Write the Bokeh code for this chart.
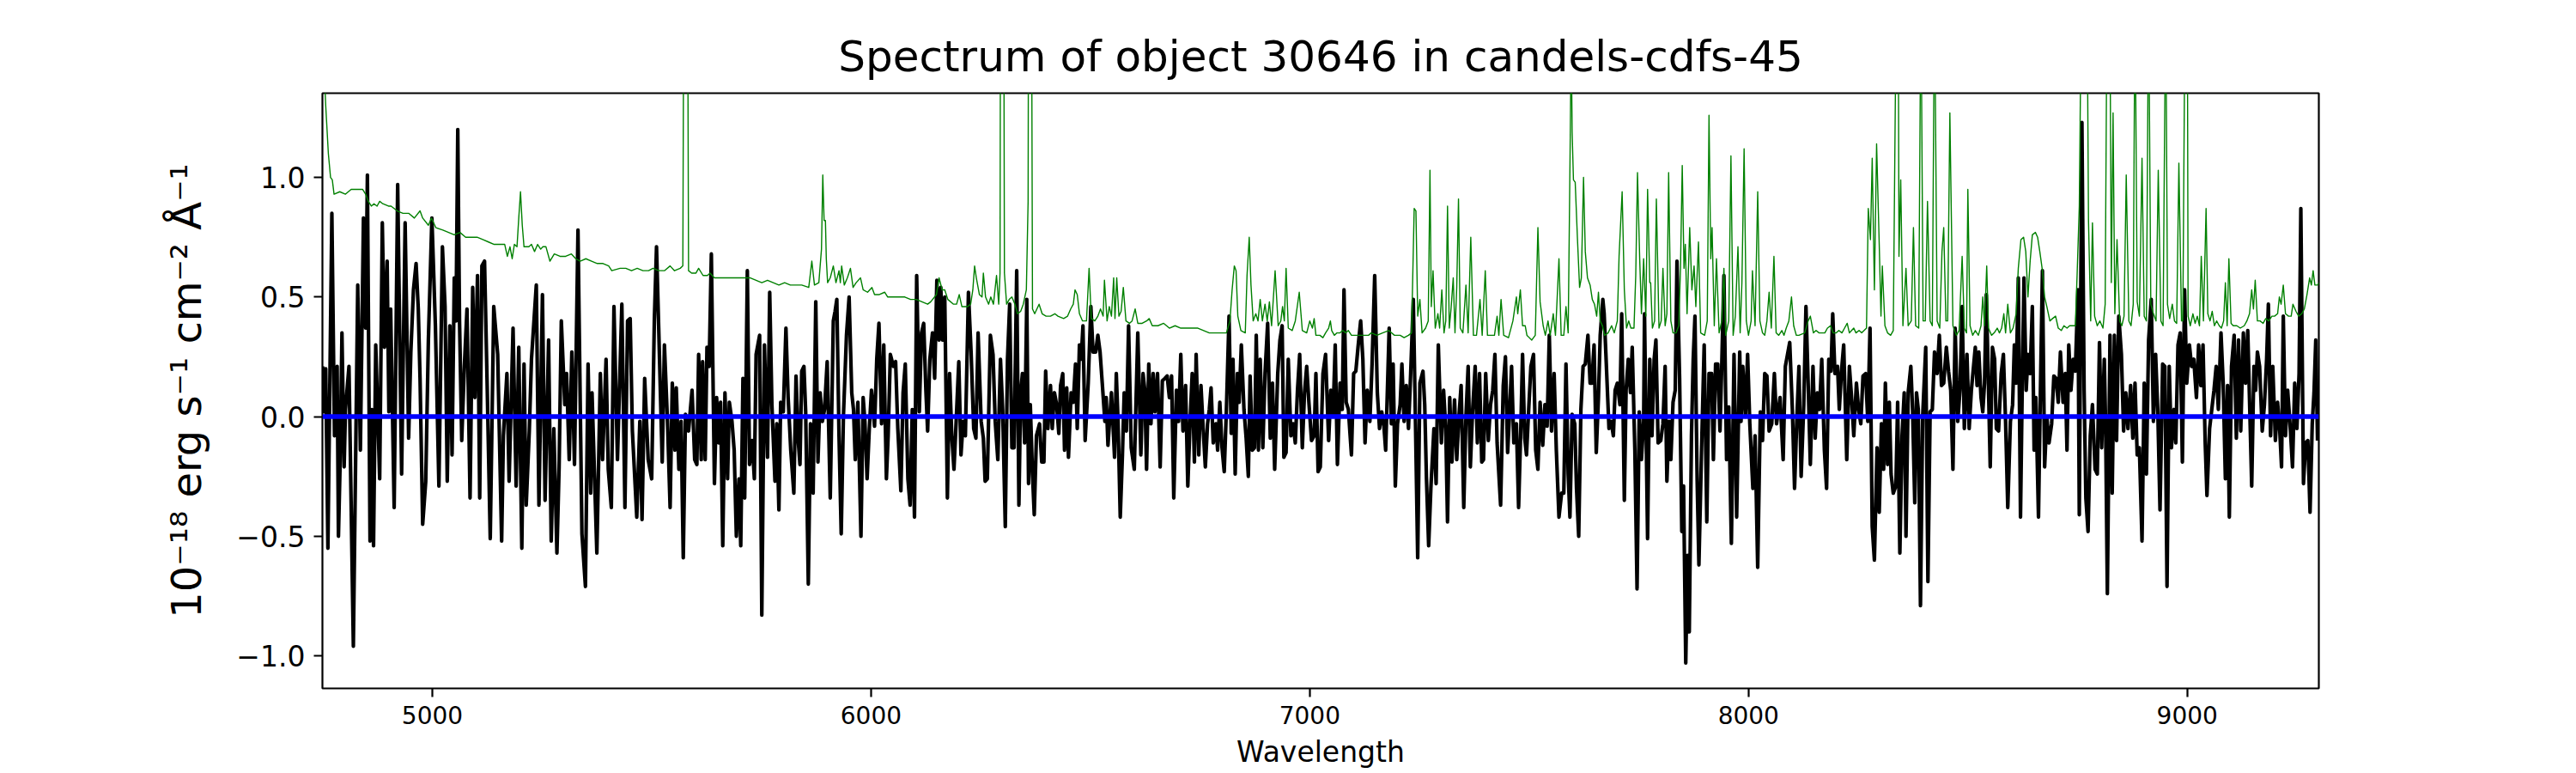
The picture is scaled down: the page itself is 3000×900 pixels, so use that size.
from bokeh.plotting import figure
from bokeh.models import Range1d, FixedTicker, CustomJSTickFormatter
from bokeh.embed import file_html
from bokeh.resources import INLINE

TITLE = "Spectrum of object 30646 in candels-cdfs-45"
X_LABEL = "Wavelength"
Y_LABEL = "10\u207b\u00b9\u2078 erg s\u207b\u00b9 cm\u207b\u00b2 \u00c5\u207b\u00b9"
X_TICKS = [5000, 6000, 7000, 8000, 9000]
Y_TICKS = [-1.0, -0.5, 0.0, 0.5, 1.0]
X_LIMITS = (4749.5, 9300.0)
Y_LIMITS = (-1.136, 1.352)

# ---- observed flux (black), read in six pieces ----
flux_wave_1 = [4750,4753,4757,4762,4771,4777,4783,4786,4790,4794,4799,4802,4810,4820,4830,4836,4843,4848,4852,4858,
               4862,4866,4871,4880,4886,4891,4897,4901,4905,4913,4921,4930,4938,4946,4951,4957,4963,4968,4972,4978,
               4985,4991,4999,5007,5015,5023,5029,5034,5040,5045,5050,5054,5058,5062,5067,5073,5079,5086,5092,5097,
               5103,5108,5113,5119,5125,5132,5140,5149,5158,5162,5170,5175,5184,5191,5197,5204,5209,5214,5221,5226,
               5237,5243,5251,5257,5265,5271,5277,5284,5289,5294,5302,5306,5312,5318,5324,5332,5341,5349,5355,5361,
               5364,5375,5383,5388,5396,5401,5408,5414,5422,5432,5439,5445,5451,5456,5466,5473,5478,5484,5492,5500]
flux_val_1 = [0.21,0.02,0.20,-0.55,0.85,-0.08,0.21,-0.50,-0.18,0.35,-0.21,0.03,0.21,-0.96,0.55,-0.14,0.83,0.37,1.01,-0.52,
              0.03,-0.54,0.30,-0.26,0.81,0.29,0.65,0.02,0.45,-0.38,0.97,-0.24,0.81,-0.09,0.27,0.53,0.64,0.45,0.16,-0.45,
              -0.27,0.32,0.83,0.38,-0.29,0.71,0.46,-0.27,0.38,-0.16,0.58,0.40,1.20,0.40,-0.10,0.21,0.45,-0.34,0.54,0.08,
              0.59,-0.34,0.63,0.65,0.13,-0.51,0.46,0.26,-0.52,-0.08,0.18,-0.27,0.37,-0.29,0.29,-0.55,0.22,-0.37,-0.06,0.24,
              0.55,-0.37,0.51,-0.35,0.32,-0.52,-0.05,-0.57,-0.21,0.40,0.05,0.18,-0.18,0.27,-0.20,0.78,-0.49,-0.71,0.22,-0.32,
              0.10,-0.57,0.18,-0.18,0.24,-0.22,-0.38,0.46,-0.18,0.47,-0.38,0.40,0.41,-0.06,-0.42,-0.02,-0.43,0.16,-0.18,-0.26]

flux_wave_2 = [5506,5511,5516,5524,5529,5536,5542,5547,5553,5556,5562,5567,5572,5577,5584,5592,5598,5603,5607,5613,
               5616,5622,5626,5631,5636,5643,5648,5653,5657,5662,5667,5673,5677,5683,5688,5693,5699,5703,5708,5712,
               5718,5723,5729,5734,5738,5746,5751,5757,5764,5769,5774,5781,5785,5790,5794,5800,5806,5811,5817,5824,
               5829,5834,5838,5842,5847,5851,5857,5862,5868,5874,5879,5884,5889,5894,5900,5907,5914,5918,5922,5927,
               5932,5937,5944,5950,5956,5960,5964,5970,5977,5982,5986,5991,5996,6001,6008,6013,6018,6024,6029,6035,
               6039,6044,6051,6056,6061,6068,6073,6078,6084,6089,6094,6099,6104,6110,6115,6120,6125,6129,6134,6140,
               6145,6150,6155,6159,6163,6168,6174,6179,6184,6189,6194,6200,6205,6210,6215,6222,6228,6234,6239,6244,
               6251]
flux_val_2 = [0.40,0.71,0.37,-0.19,0.30,-0.02,-0.38,0.14,-0.14,0.12,-0.22,-0.02,-0.59,0.01,-0.06,0.11,-0.18,-0.20,0.26,-0.18,
              0.23,-0.18,0.29,0.21,0.68,-0.28,0.08,-0.11,0.06,-0.54,0.10,-0.26,0.06,-0.02,-0.14,-0.50,-0.26,-0.54,0.16,-0.34,
              0.61,-0.20,-0.10,-0.26,0.26,0.34,-0.83,0.30,-0.17,0.52,0.05,-0.27,-0.03,-0.39,0.06,0.02,0.37,0.08,-0.14,-0.32,
              0.17,-0.10,-0.20,0.19,0.21,0.02,-0.70,-0.03,-0.32,0.48,-0.19,0.10,-0.02,0.03,0.23,-0.34,0.40,0.44,0.49,-0.08,
              -0.49,0.00,0.34,0.50,0.10,0.03,-0.18,0.06,-0.50,0.08,-0.02,-0.26,-0.05,0.11,-0.04,0.24,0.39,-0.03,0.30,-0.26,
              -0.08,0.26,0.21,0.23,-0.05,-0.31,0.10,0.22,-0.26,-0.37,0.03,-0.42,0.59,0.02,0.35,0.39,0.11,-0.06,0.24,0.35,
              0.16,0.57,0.32,0.54,0.32,0.50,-0.34,0.18,-0.08,-0.22,-0.02,0.23,-0.16,-0.02,-0.08,0.52,0.27,-0.05,-0.09,0.35,
              -0.02]

flux_wave_3 = [6256,6260,6265,6272,6278,6283,6289,6295,6300,6306,6311,6316,6321,6326,6332,6337,6341,6345,6350,6355,
               6359,6363,6368,6372,6377,6384,6389,6394,6398,6403,6409,6413,6418,6423,6428,6432,6437,6441,6446,6450,
               6456,6461,6466,6470,6475,6479,6483,6488,6495,6501,6506,6512,6517,6522,6527,6533,6536,6540,6548,6555,
               6559,6563,6568,6573,6577,6582,6587,6593,6600,6608,6615,6620,6624,6628,6633,6638,6643,6647,6653,6659,
               6664,6670,6675,6680,6685,6690,6696,6701,6706,6711,6717,6722,6727,6732,6737,6741,6747,6752,6757,6762,
               6767,6771,6775,6780,6786,6790,6795,6800,6805,6810,6816,6821,6825,6830,6835,6839,6844,6850,6855,6860,
               6864,6869,6874,6878,6883,6887,6893,6898,6904,6910,6915,6920,6927,6932,6937,6941,6946,6951,6957,6962,
               6967,6972,6977,6983,6988,6993,6998,7004]
flux_val_3 = [-0.09,-0.27,-0.26,0.34,0.26,-0.02,-0.18,0.24,0.03,-0.46,0.24,0.47,-0.13,-0.13,0.61,-0.37,0.10,0.18,-0.11,0.49,
              -0.28,0.05,-0.24,-0.41,-0.08,-0.03,-0.19,-0.19,0.19,-0.05,0.13,-0.05,0.10,0.05,-0.07,0.13,0.18,-0.14,0.12,-0.17,
              0.10,0.06,0.22,-0.05,0.30,0.24,0.38,-0.10,0.14,0.46,0.27,0.27,0.34,0.27,0.14,-0.02,0.08,-0.12,0.10,-0.17,
              0.18,-0.02,-0.42,-0.16,0.10,-0.06,0.38,-0.13,-0.22,0.35,-0.16,0.18,0.11,-0.22,0.22,-0.03,0.18,0.02,0.18,-0.21,
              0.15,0.16,0.17,0.08,0.17,-0.34,0.11,-0.02,0.26,-0.06,0.13,-0.29,-0.03,0.18,-0.19,0.26,-0.16,0.13,-0.05,-0.21,
              -0.03,0.03,0.12,-0.11,-0.03,-0.14,0.06,-0.13,-0.23,0.03,0.42,-0.07,0.24,-0.24,0.18,0.06,0.30,0.03,-0.09,-0.25,
              0.17,-0.14,-0.13,0.34,-0.14,0.24,-0.13,0.18,0.39,-0.09,0.14,-0.22,0.18,0.32,0.38,-0.17,-0.15,0.24,-0.08,-0.03,
              -0.11,0.11,0.26,-0.13,0.10,0.21,0.06,-0.10]

flux_wave_4 = [7010,7014,7019,7024,7030,7036,7043,7048,7053,7058,7063,7069,7074,7078,7083,7088,7095,7100,7105,7110,
               7116,7121,7126,7131,7137,7142,7148,7154,7159,7164,7169,7173,7181,7186,7190,7195,7200,7206,7210,7215,
               7220,7225,7230,7236,7241,7246,7251,7258,7262,7266,7271,7276,7283,7288,7293,7300,7305,7310,7314,7319,
               7324,7330,7335,7340,7345,7351,7356,7361,7366,7371,7377,7382,7387,7392,7396,7401,7407,7412,7417,7422,
               7427,7435,7441,7446,7451,7455,7460,7465,7471,7476,7481,7485,7490,7494,7499,7504,7510,7515,7520,7525,
               7531,7536,7541,7546,7551,7557,7562,7568,7574,7579,7584,7589,7593,7598,7604,7608,7613,7618,7623,7628,
               7634,7639,7643,7648,7653,7658,7662,7668,7671,7675,7682,7687,7692,7696,7701,7707,7711,7717,7721,7726,
               7731,7735,7741,7746,7751,7756,7761]
flux_val_4 = [-0.08,0.18,-0.23,-0.21,0.18,0.26,-0.10,0.11,0.00,0.30,-0.20,0.14,0.03,0.53,0.06,0.03,-0.16,0.18,0.19,0.29,
              0.40,0.24,-0.11,0.11,-0.02,0.22,0.59,0.10,-0.05,0.02,-0.04,-0.14,0.37,-0.03,0.22,-0.29,-0.03,0.05,0.22,-0.02,
              0.13,-0.05,0.18,0.49,-0.03,-0.59,0.14,0.19,0.05,-0.26,-0.54,-0.30,-0.05,-0.28,0.30,-0.11,0.11,-0.05,-0.44,0.08,
              -0.19,0.07,-0.18,0.00,0.13,-0.38,0.00,0.21,-0.21,0.02,0.21,-0.11,0.18,-0.19,-0.18,0.18,-0.10,0.05,0.11,0.26,
              -0.11,-0.37,0.13,0.25,-0.15,0.00,0.21,-0.11,-0.03,-0.38,-0.05,0.26,-0.09,-0.16,0.03,0.21,0.26,-0.14,-0.22,0.06,
              -0.12,0.05,-0.04,0.34,-0.06,0.18,-0.14,-0.42,-0.32,-0.32,0.22,-0.24,-0.42,0.01,-0.03,-0.30,-0.50,0.03,0.21,0.22,
              0.34,0.14,0.14,0.30,-0.15,0.08,0.34,0.49,0.43,0.26,-0.05,-0.02,-0.08,0.11,0.14,0.05,0.43,-0.35,0.11,0.24,
              0.10,0.29,-0.14,-0.72,0.02,-0.18,-0.02]

flux_wave_5 = [7763,7770,7775,7780,7785,7789,7794,7800,7805,7810,7814,7819,7823,7828,7833,7837,7843,7848,7852,7857,
               7861,7865,7870,7874,7878,7883,7887,7893,7899,7905,7910,7916,7920,7925,7930,7935,7939,7944,7950,7955,
               7961,7967,7973,7980,7983,7987,7993,7998,8003,8010,8015,8021,8027,8032,8037,8042,8047,8053,8059,8064,
               8072,8079,8084,8089,8094,8100,8105,8110,8115,8120,8126,8131,8136,8141,8147,8152,8157,8162,8167,8173,
               8178,8183,8188,8192,8197,8203,8207,8212,8217,8224,8230,8235,8240,8246,8251,8256,8261,8267,8272,8277,
               8282,8287,8293,8298,8303,8308,8312,8317,8321,8325,8330,8336,8340,8345,8350,8355,8359,8364,8370,8374,
               8379,8383,8387,8392,8397,8404,8409,8414,8419,8424,8430,8435,8440,8445,8451,8456,8461,8466,8471,8477,
               8482,8487,8492,8498,8503,8508]
flux_val_5 = [0.43,-0.51,0.24,-0.08,0.24,0.32,-0.11,-0.10,-0.03,0.21,-0.27,-0.02,-0.18,0.06,0.11,0.65,0.16,-0.48,-0.29,-1.03,
              -0.58,-0.90,-0.08,0.24,0.42,-0.27,-0.62,-0.14,0.30,-0.44,0.18,0.18,-0.18,0.22,0.22,-0.06,0.21,0.59,-0.18,0.04,
              -0.53,0.26,-0.42,0.27,-0.02,0.21,0.00,0.26,-0.03,-0.30,-0.08,-0.63,0.02,-0.10,0.18,0.17,-0.06,-0.03,0.18,-0.03,
              0.08,-0.18,0.21,0.26,0.31,0.03,-0.30,-0.02,0.21,-0.25,0.05,0.46,0.14,-0.20,0.21,-0.09,0.10,0.03,0.24,-0.14,
              -0.30,0.24,0.19,0.43,0.18,0.21,0.03,0.19,0.30,-0.18,0.21,0.08,-0.08,0.14,0.03,-0.03,0.17,0.18,-0.02,0.37,
              -0.46,-0.60,-0.13,-0.40,-0.03,-0.22,0.14,-0.20,0.06,-0.24,-0.32,-0.29,0.06,-0.57,-0.08,0.10,-0.50,0.10,0.21,0.03,
              -0.36,0.10,0.03,-0.79,0.00,0.29,-0.69,0.02,0.03,0.27,0.18,0.34,0.13,0.14,0.29,0.19,0.11,-0.22,0.37,-0.02,
              0.11,0.46,-0.05,0.26,-0.05,0.11]

flux_wave_6 = [8517,8521,8525,8530,8534,8538,8542,8546,8551,8556,8561,8565,8570,8576,8581,8586,8591,8597,8602,8606,
               8610,8615,8620,8624,8628,8633,8637,8642,8647,8651,8655,8661,8664,8670,8675,8680,8685,8691,8696,8701,
               8706,8711,8717,8722,8726,8730,8735,8740,8745,8751,8754,8760,8765,8769,8774,8779,8784,8790,8795,8800,
               8805,8811,8814,8818,8824,8829,8834,8839,8844,8850,8855,8860,8865,8871,8876,8881,8886,8891,8897,8902,
               8907,8912,8918,8923,8928,8933,8938,8944,8949,8954,8959,8964,8970,8974,8979,8984,8989,8994,8999,9005,
               9010,9015,9021,9026,9031,9036,9041,9045,9051,9056,9061,9066,9071,9077,9082,9087,9092,9096,9101,9107,
               9112,9117,9122,9128,9133,9138,9143,9147,9152,9156,9160,9165,9171,9176,9181,9185,9190,9195,9201,9206,
               9211,9215,9219,9224,9229,9235,9240,9245,9250,9255,9259,9265,9270,9275,9280,9285,9289,9293,9297]
flux_val_6 = [0.29,0.13,0.27,0.08,0.02,0.14,0.51,0.21,-0.21,0.29,0.24,-0.05,-0.06,0.18,0.26,-0.02,-0.38,-0.02,0.05,0.30,
              0.14,0.58,-0.42,0.13,0.58,0.11,0.26,0.18,0.46,-0.14,0.08,-0.42,-0.05,0.61,-0.21,0.00,-0.11,-0.03,0.17,0.16,
              0.06,0.27,0.06,0.18,-0.14,0.30,0.11,0.24,0.19,0.53,-0.41,1.23,0.11,-0.34,-0.48,-0.08,0.05,-0.22,-0.24,0.31,
              -0.13,0.24,-0.03,-0.74,0.34,-0.32,0.34,-0.10,0.42,0.26,-0.06,0.10,-0.05,0.13,-0.09,0.14,-0.16,-0.13,-0.52,0.14,
              -0.24,0.32,0.49,-0.02,0.26,0.02,-0.39,0.22,0.21,-0.71,0.21,-0.13,0.03,-0.11,0.30,0.35,-0.19,0.53,0.14,0.30,
              0.21,0.24,0.08,0.30,0.13,0.30,-0.11,-0.33,-0.05,0.03,0.11,0.21,0.03,0.35,0.14,-0.26,0.13,-0.42,0.21,0.34,
              -0.09,0.32,-0.06,0.35,0.14,0.36,0.00,-0.29,0.21,0.11,0.27,0.21,-0.06,0.05,0.24,0.47,-0.08,0.21,-0.10,0.06,
              -0.06,-0.21,0.42,-0.08,0.11,-0.05,-0.21,0.14,-0.05,0.18,0.87,-0.28,-0.11,-0.10,-0.40,-0.03,0.10,0.32,-0.10]

# ---- noise / sky spectrum (green) ----
noise_wave_1 = [4750,4757,4763,4768,4772,4776,4789,4802,4815,4828,4841,4848,4854,4861,4867,4874,4880,4887,4900,4906,
                4920,4933,4946,4959,4972,4978,4991,4998,5008,5024,5037,5050,5063,5076,5089,5102,5115,5128,5141,5154,
                5165,5171,5177,5182,5187,5193,5197,5201,5205,5209,5220,5226,5233,5240,5247,5252,5259,5268,5278,5291,
                5304,5317,5327,5337,5350,5363,5376,5389,5402,5409,5428,5441,5454,5467,5480,5493]
noise_val_1 = [1.60,1.30,1.10,1.00,0.99,0.93,0.94,0.93,0.95,0.95,0.95,0.93,0.90,0.88,0.89,0.88,0.90,0.89,0.88,0.88,
               0.86,0.85,0.85,0.83,0.86,0.83,0.80,0.83,0.79,0.78,0.77,0.76,0.77,0.75,0.75,0.75,0.74,0.73,0.72,0.72,
               0.72,0.67,0.71,0.66,0.72,0.71,0.83,0.94,0.80,0.71,0.71,0.72,0.69,0.72,0.70,0.71,0.71,0.65,0.68,0.67,
               0.67,0.68,0.66,0.65,0.66,0.65,0.64,0.64,0.63,0.61,0.62,0.62,0.61,0.62,0.61,0.61]

noise_wave_2 = [5503,5516,5529,5542,5552,5565,5571,5576,5580,5584,5591,5601,5607,5617,5627,5633,5643,5653,5663,5673,
                5686,5699,5712,5725,5738,5751,5764,5777,5790,5803,5816,5829,5842,5858,5865,5871,5881,5887,5890,5893,
                5896,5898,5901,5907,5914,5920,5927,5930,5933,5939,5946,5953,5959,5966,5976,5982,5992,6002,6008,6018,
                6031,6038,6051,6064,6077,6090,6103,6116,6129,6136,6149,6155,6162,6168,6175,6188,6195,6201,6207,6220,
                6227,6232,6236,6240,6247,6253]
noise_val_2 = [0.62,0.61,0.61,0.63,0.61,0.62,0.63,3.50,3.00,0.61,0.60,0.60,0.62,0.59,0.59,0.60,0.58,0.58,0.58,0.58,
               0.58,0.58,0.58,0.58,0.57,0.56,0.57,0.56,0.55,0.56,0.55,0.55,0.55,0.54,0.65,0.55,0.56,0.70,1.01,0.82,
               0.82,0.66,0.56,0.58,0.63,0.56,0.61,0.56,0.63,0.55,0.58,0.62,0.54,0.56,0.58,0.53,0.52,0.54,0.51,0.51,
               0.52,0.50,0.50,0.50,0.50,0.49,0.49,0.48,0.47,0.48,0.51,0.58,0.53,0.53,0.49,0.47,0.47,0.51,0.46,0.46,
               0.47,0.53,0.63,0.58,0.51,0.50]

noise_wave_3 = [6256,6261,6268,6273,6279,6286,6291,6294,6296,6300,6304,6309,6315,6321,6328,6334,6341,6347,6354,6358,
                6360,6364,6368,6373,6383,6390,6399,6409,6419,6426,6439,6448,6455,6461,6465,6470,6475,6482,6491,6497,
                6502,6510,6517,6523,6529,6532,6538,6543,6548,6553,6556,6560,6565,6570,6575,6581,6589,6595,6602,6608,
                6618,6628,6634,6641,6654,6667,6680,6693,6706,6719,6732,6745,6758,6771,6784,6797,6810,6818,6823,6828,
                6832,6836,6843,6853,6857,6862,6866,6871,6877,6882,6887,6892,6898,6903,6908,6913,6921,6928,6934,6938,
                6942,6946,6951,6960,6967,6976,6983,6993,7000,7006]
noise_val_3 = [0.60,0.50,0.47,0.50,0.47,0.59,0.47,0.60,3.00,4.00,0.60,0.47,0.49,0.50,0.47,0.43,0.44,0.47,0.53,0.90,
               3.00,3.00,0.45,0.43,0.47,0.43,0.42,0.42,0.43,0.42,0.41,0.42,0.45,0.47,0.53,0.51,0.43,0.40,0.40,0.62,
               0.41,0.40,0.42,0.45,0.42,0.57,0.40,0.46,0.42,0.58,0.41,0.58,0.42,0.44,0.54,0.40,0.39,0.40,0.45,0.39,
               0.39,0.40,0.41,0.38,0.38,0.39,0.37,0.38,0.37,0.37,0.37,0.37,0.36,0.35,0.35,0.35,0.35,0.40,0.53,0.63,
               0.61,0.42,0.36,0.35,0.59,0.75,0.55,0.40,0.43,0.40,0.49,0.40,0.47,0.40,0.48,0.38,0.61,0.38,0.40,0.46,
               0.40,0.62,0.37,0.36,0.40,0.52,0.36,0.35,0.40,0.37]

noise_wave_4 = [7010,7014,7023,7030,7036,7043,7047,7050,7056,7062,7069,7075,7082,7088,7095,7108,7121,7134,7140,7153,
                7166,7180,7193,7206,7215,7225,7232,7238,7242,7246,7251,7256,7264,7270,7274,7277,7281,7286,7292,7296,
                7301,7306,7310,7314,7318,7322,7327,7331,7335,7339,7343,7349,7356,7361,7367,7373,7380,7388,7393,7400,
                7405,7414,7421,7427,7431,7436,7442,7453,7463,7471,7474,7480,7485,7491,7495,7506,7514,7520,7525,7532,
                7537,7543,7548,7555,7560,7568,7573,7579,7584,7589,7593,7596,7598,7601,7605,7610,7615,7619,7624,7628,
                7633,7639,7644,7649,7654,7658,7662,7667,7672,7680,7688,7694,7701,7705,7712,7717,7722,7727,7732,7739,
                7743,7747,7752,7756,7761,7766,7770]
noise_val_4 = [0.41,0.34,0.34,0.33,0.35,0.37,0.40,0.36,0.34,0.35,0.35,0.36,0.35,0.36,0.34,0.34,0.34,0.34,0.35,0.34,
               0.35,0.36,0.34,0.34,0.33,0.34,0.35,0.87,0.86,0.42,0.49,0.35,0.37,0.40,1.03,0.46,0.61,0.37,0.43,0.37,
               0.53,0.35,0.40,0.88,0.37,0.45,0.58,0.35,0.54,0.91,0.37,0.35,0.55,0.35,0.75,0.34,0.34,0.49,0.34,0.61,
               0.34,0.34,0.34,0.42,0.34,0.49,0.34,0.33,0.40,0.50,0.43,0.53,0.38,0.38,0.34,0.32,0.34,0.79,0.48,0.38,
               0.34,0.40,0.34,0.43,0.34,0.66,0.34,0.34,0.46,0.35,1.04,1.60,1.19,0.99,0.98,0.75,0.54,0.58,1.00,0.69,
               0.58,0.55,0.49,0.47,0.42,0.52,0.40,0.38,0.34,0.35,0.38,0.35,0.40,0.67,0.94,0.53,0.37,0.40,0.37,0.37,
               0.59,1.02,0.66,0.43,0.66,0.42,0.95]

noise_wave_5 = [7775,7777,7781,7786,7790,7796,7801,7805,7810,7814,7818,7823,7828,7835,7841,7845,7849,7853,7856,7860,
                7866,7871,7876,7880,7886,7891,7900,7906,7910,7914,7917,7922,7927,7933,7939,7944,7948,7955,7960,7965,
                7970,7976,7981,7985,7990,7995,8000,8006,8009,8015,8021,8026,8032,8037,8042,8047,8052,8058,8063,8069,
                8076,8081,8086,8092,8098,8103,8109,8115,8128,8136,8141,8148,8154,8161,8167,8174,8180,8187,8193,8200,
                8206,8213,8219,8225,8230,8235,8240,8245,8252,8258,8269,8273,8278,8282,8287,8292,8298,8302,8305,8311,
                8317,8324,8330,8337,8341,8343,8347,8352,8359,8364,8371,8376,8381,8388,8393,8398,8403,8408,8414,8419,
                8424,8430,8436,8441,8445,8450,8454,8459,8466,8474,8480,8487,8492,8497,8500,8505,8511]
noise_val_5 = [0.56,0.56,0.37,0.40,0.91,0.37,0.40,0.62,0.38,0.43,1.02,0.40,0.35,0.35,0.38,0.62,1.05,0.62,0.72,0.43,
               0.79,0.53,0.63,0.46,0.73,0.35,0.34,0.40,1.26,0.66,0.79,0.38,0.66,0.35,0.40,0.62,0.34,0.40,1.09,0.34,
               0.42,0.71,0.35,0.56,1.12,0.40,0.34,0.40,0.61,0.38,0.94,0.40,0.35,0.34,0.40,0.52,0.37,0.67,0.35,0.34,
               0.36,0.34,0.37,0.40,0.50,0.38,0.34,0.34,0.35,0.40,0.42,0.35,0.36,0.35,0.35,0.35,0.37,0.38,0.35,0.35,
               0.36,0.35,0.37,0.39,0.35,0.36,0.37,0.35,0.36,0.35,0.37,0.87,0.74,1.08,0.53,1.14,0.72,0.42,0.63,0.38,
               0.35,0.34,0.36,1.80,2.00,0.67,0.99,0.38,0.62,0.38,0.40,0.79,0.38,0.37,1.80,0.40,0.40,0.90,0.40,0.38,
               1.80,0.40,0.37,0.69,0.79,0.40,0.40,1.27,0.38,0.34,0.36,0.67,0.37,0.35,0.95,0.38,0.34]

noise_wave_6 = [8517,8524,8530,8534,8538,8543,8547,8554,8560,8567,8572,8577,8582,8586,8591,8597,8603,8610,8615,8621,
                8627,8632,8637,8642,8647,8654,8659,8664,8670,8675,8680,8687,8693,8700,8706,8713,8719,8726,8732,8739,
                8745,8749,8754,8760,8764,8767,8771,8775,8780,8784,8789,8795,8801,8808,8813,8818,8823,8827,8831,8835,
                8840,8846,8851,8856,8861,8867,8872,8877,8881,8886,8891,8897,8902,8907,8912,8917,8923,8929,8934,8940,
                8945,8951,8955,8960,8966,8971,8976,8981,8987,8990,8996,9000,9002,9007,9013,9018,9023,9028,9032,9037,
                9043,9047,9052,9057,9062,9067,9073,9078,9083,9087,9091,9095,9100,9105,9113,9121,9130,9136,9142,9147,
                9151,9155,9160,9166,9173,9179,9186,9193,9199,9206,9210,9214,9219,9224,9231,9237,9241,9248,9254,9261,
                9267,9273,9279,9283,9287,9291,9297,9301]
noise_val_6 = [0.36,0.34,0.38,0.50,0.38,0.63,0.37,0.34,0.35,0.37,0.35,0.37,0.43,0.35,0.47,0.35,0.37,0.43,0.62,0.74,
               0.75,0.69,0.50,0.65,0.76,0.77,0.75,0.69,0.61,0.50,0.46,0.40,0.41,0.42,0.37,0.36,0.38,0.37,0.38,0.38,
               0.38,0.59,0.88,2.00,2.50,2.50,2.00,0.82,0.40,0.81,0.42,0.38,0.40,0.37,0.47,2.00,2.00,0.56,1.27,0.43,
               0.74,0.40,0.38,0.42,1.01,0.40,0.38,0.47,1.80,0.48,0.42,1.08,0.42,0.40,1.80,0.47,0.43,0.40,1.03,0.40,
               0.38,1.80,0.47,0.41,0.47,0.40,0.39,1.06,0.40,0.40,2.00,2.00,0.42,0.38,0.43,0.39,0.42,0.38,0.67,0.40,
               0.87,0.43,0.40,0.44,0.38,0.40,0.38,0.37,0.40,0.56,0.38,0.66,0.39,0.38,0.38,0.37,0.38,0.40,0.43,0.53,
               0.45,0.57,0.40,0.40,0.39,0.41,0.40,0.42,0.42,0.43,0.50,0.47,0.55,0.43,0.42,0.42,0.47,0.44,0.42,0.43,
               0.45,0.51,0.58,0.55,0.61,0.55,0.55,0.56]

# ---- continuum (blue) ----
cont_wave = [4749.5, 9300.0]
cont_val = [0.0, 0.0]


def join(pairs):
    xs, ys = [], []
    for w, v in pairs:
        n = min(len(w), len(v))
        xs += w[:n]
        ys += v[:n]
    return xs, ys


flux_x, flux_y = join([(flux_wave_1, flux_val_1), (flux_wave_2, flux_val_2), (flux_wave_3, flux_val_3),
                       (flux_wave_4, flux_val_4), (flux_wave_5, flux_val_5), (flux_wave_6, flux_val_6)])
noise_x, noise_y = join([(noise_wave_1, noise_val_1), (noise_wave_2, noise_val_2), (noise_wave_3, noise_val_3),
                         (noise_wave_4, noise_val_4), (noise_wave_5, noise_val_5), (noise_wave_6, noise_val_6)])

FONT = "DejaVu Sans"

p = figure(width=3000, height=900, output_backend="svg", toolbar_location=None,
           x_range=Range1d(*X_LIMITS), y_range=Range1d(*Y_LIMITS),
           min_border_left=375, min_border_right=300, min_border_top=108, min_border_bottom=99,
           title=TITLE)
p.background_fill_color = "white"
p.border_fill_color = "white"
p.xgrid.visible = False
p.ygrid.visible = False
p.outline_line_color = "black"
p.outline_line_width = 2.2
p.outline_line_alpha = 1.0

p.title.text_font = FONT
p.title.text_font_size = "50px"
p.title.text_font_style = "normal"
p.title.text_color = "black"
p.title.align = "center"
p.title.standoff = 28

p.line(flux_x, flux_y, line_color="black", line_width=4.2, line_join="round")
p.line(noise_x, noise_y, line_color="#008000", line_width=1.4, line_join="round")
p.line(cont_wave, cont_val, line_color="#0000ff", line_width=5.5)

for ax in (p.xaxis[0], p.yaxis[0]):
    ax.axis_line_color = None
    ax.major_tick_line_color = "black"
    ax.major_tick_line_width = 2.2
    ax.major_tick_out = 10
    ax.major_tick_in = 0
    ax.minor_tick_line_color = None
    ax.major_label_text_font = FONT
    ax.major_label_text_color = "black"
    ax.major_label_standoff = 10
    ax.axis_label_text_font = FONT
    ax.axis_label_text_font_style = "normal"
    ax.axis_label_text_color = "black"

p.xaxis[0].ticker = FixedTicker(ticks=X_TICKS)
p.xaxis[0].major_label_text_font_size = "28px"
p.xaxis[0].axis_label = X_LABEL
p.xaxis[0].axis_label_text_font_size = "33px"
p.xaxis[0].axis_label_standoff = 10

p.yaxis[0].ticker = FixedTicker(ticks=Y_TICKS)
p.yaxis[0].formatter = CustomJSTickFormatter(code="return tick.toFixed(1).replace('-', '\u2212');")
p.yaxis[0].major_label_text_font_size = "33px"
p.yaxis[0].axis_label = Y_LABEL
p.yaxis[0].axis_label_text_font_size = "48px"
p.yaxis[0].axis_label_standoff = 27

open("out.html", "w").write(file_html(p, INLINE))
